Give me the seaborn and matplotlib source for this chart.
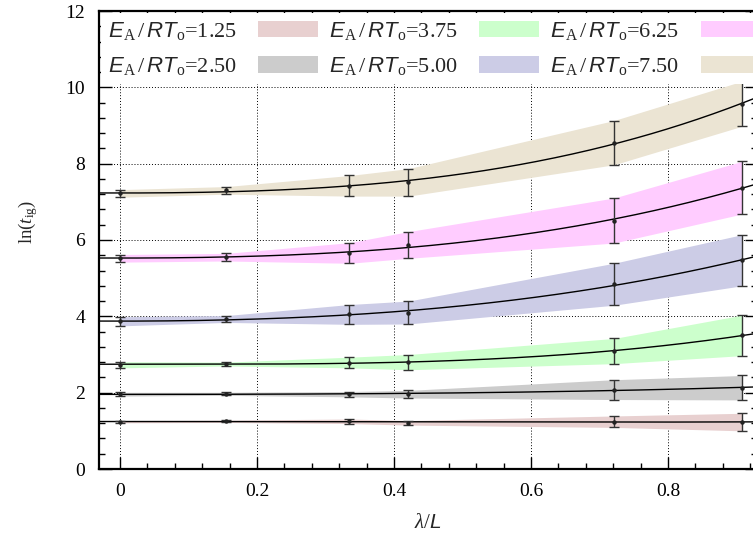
import numpy as np
import pandas as pd
import matplotlib
matplotlib.use("Agg")
import matplotlib.pyplot as plt
from matplotlib.patches import Patch
from matplotlib.ticker import MultipleLocator, FormatStrFormatter
import seaborn as sns

# ---- data ----
lam = [0.0, 0.155, 0.335, 0.421, 0.721, 0.908]
labels = ["1.25", "2.50", "3.75", "5.00", "6.25", "7.50"]
y_125 = [1.24, 1.25, 1.25, 1.21, 1.24, 1.23]
e_125 = [0.03, 0.03, 0.06, 0.06, 0.15, 0.23]
y_250 = [1.96, 1.97, 1.96, 1.96, 2.08, 2.13]
e_250 = [0.05, 0.04, 0.07, 0.10, 0.26, 0.32]
y_375 = [2.73, 2.75, 2.79, 2.80, 3.09, 3.50]
e_375 = [0.08, 0.05, 0.14, 0.20, 0.33, 0.53]
y_500 = [3.87, 3.93, 4.05, 4.10, 4.84, 5.47]
e_500 = [0.12, 0.09, 0.26, 0.30, 0.55, 0.67]
y_625 = [5.52, 5.55, 5.66, 5.87, 6.51, 7.37]
e_625 = [0.10, 0.10, 0.27, 0.35, 0.59, 0.69]
y_750 = [7.22, 7.30, 7.42, 7.51, 8.55, 9.57]
e_750 = [0.10, 0.10, 0.27, 0.36, 0.58, 0.59]
colors = ["#e8d0d0", "#cccccc", "#ccffcc", "#ccccE6", "#ffccff", "#ebe4d3"]

series_y = [y_125, y_250, y_375, y_500, y_625, y_750]
series_e = [e_125, e_250, e_375, e_500, e_625, e_750]

sns.set_theme(style="ticks")
plt.rcParams["font.family"] = ["Liberation Serif", "DejaVu Serif"]
plt.rcParams["mathtext.fontset"] = "custom"
plt.rcParams["mathtext.rm"] = "Liberation Serif"
plt.rcParams["mathtext.it"] = "Liberation Serif:italic"
plt.rcParams["mathtext.sf"] = "Liberation Sans:italic"

fig = plt.figure(figsize=(7.53, 5.40), dpi=100)
ax = fig.add_axes([99 / 753, 1 - 469 / 540, (757 - 99) / 753, (469 - 11) / 540])

xmin, xmax = -0.0307, 0.930
xs = np.linspace(xmin, xmax, 300)


def basis(x):
    x = np.asarray(x, dtype=float)
    return np.column_stack([np.ones_like(x), x ** 2, x ** 3])


rows = []
for lab, ys in zip(labels, series_y):
    coef, *_ = np.linalg.lstsq(basis(lam), np.asarray(ys), rcond=None)
    fy = basis(xs) @ coef
    for xv, yv in zip(xs, fy):
        rows.append({"lam": xv, "val": yv, "EA": lab})
fit_df = pd.DataFrame(rows)

for ys, es, c in zip(series_y, series_e, colors):
    ys = np.array(ys); es = np.array(es)
    ax.fill_between(lam, ys - es, ys + es, color=c, lw=0, zorder=1)

sns.lineplot(data=fit_df, x="lam", y="val", units="EA", estimator=None,
             color="black", lw=1.0, ax=ax, zorder=3, legend=False)

for ys, es in zip(series_y, series_e):
    ax.errorbar(lam, ys, yerr=es, fmt="o", ms=2.2, color="#222222",
                ecolor="#333333", elinewidth=1.0, capsize=3.6, capthick=1.0, zorder=4)

ax.set_xlim(xmin, xmax)
ax.set_ylim(0, 12)
ax.xaxis.set_major_locator(MultipleLocator(0.2))
ax.xaxis.set_minor_locator(MultipleLocator(0.04))
ax.yaxis.set_major_locator(MultipleLocator(2))
ax.yaxis.set_minor_locator(MultipleLocator(0.4))
ax.xaxis.set_major_formatter(FormatStrFormatter("%g"))
ax.tick_params(which="both", direction="in", top=True, right=True, colors="black",
               labelsize=14)
ax.tick_params(which="major", length=9, width=1.0, pad=10)
ax.tick_params(which="minor", length=4.5, width=1.0)
for s in ax.spines.values():
    s.set_linewidth(1.6)
    s.set_color("black")

for xv in [0, 0.2, 0.4, 0.6, 0.8]:
    ax.axvline(xv, color="black", ls=(0, (1, 2)), lw=0.7, zorder=0.5)
for yv in [2, 4, 6, 8, 10]:
    ax.axhline(yv, color="black", ls=(0, (1, 2)), lw=0.7, zorder=0.5)

ax.set_xlabel(r"$\lambda/\mathsf{L}$", fontsize=15, labelpad=10)
ax.set_ylabel(r"ln($t_\mathrm{ig}$)", fontsize=13.5)
ax.yaxis.set_label_coords((40 - 99) / 658, (469 - 222) / 458)

handles = [Patch(facecolor=c, edgecolor="none") for c in colors]
leg_labels = [r"$\mathsf{E}_\mathrm{A}\,/\,\mathsf{RT}_\mathrm{o}$=" + l for l in labels]
leg = ax.legend(handles, leg_labels, ncol=3, loc="upper left",
                bbox_to_anchor=(0.0, 1.0), markerfirst=False, frameon=True,
                fontsize=16, handlelength=2.7, handleheight=0.77,
                handletextpad=0.95, columnspacing=0.5, labelspacing=0.6,
                borderpad=0.3, borderaxespad=0.1, fancybox=False)
leg.get_frame().set_facecolor("white")
leg.get_frame().set_edgecolor("none")
leg.get_frame().set_alpha(1.0)
leg.set_zorder(5)

fig.savefig("out.png", dpi=100)
